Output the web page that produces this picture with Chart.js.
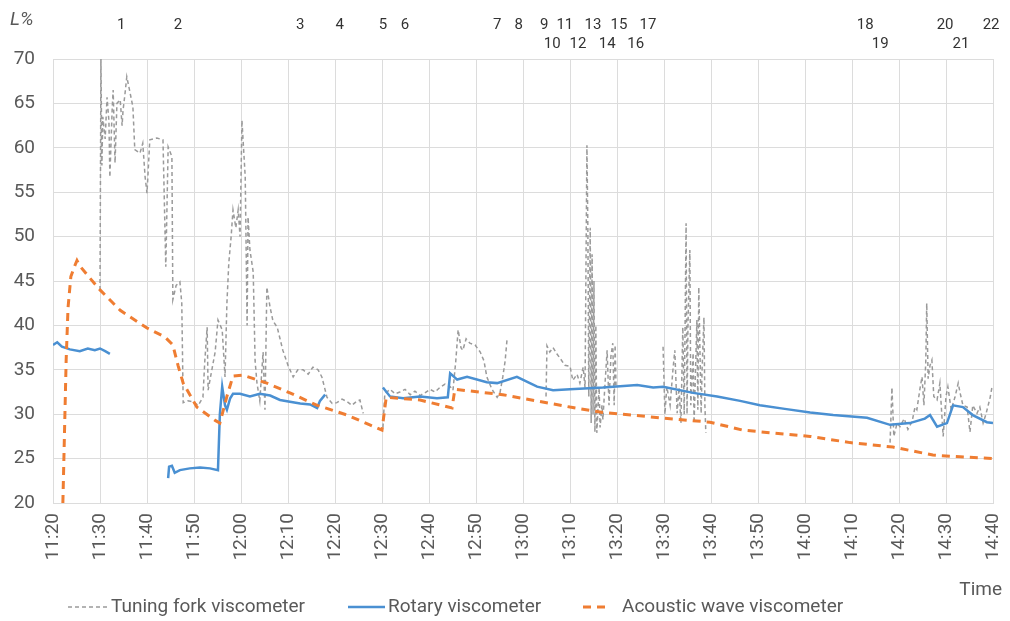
<!DOCTYPE html>
<html>
<head>
<meta charset="utf-8">
<script src="https://cdn.jsdelivr.net/npm/chart.js@4/dist/chart.umd.min.js"></script>
<style>
html,body{margin:0;padding:0;background:#fff;}
canvas{display:block;}
</style>
</head>
<body>
<canvas id="c" width="1010" height="621"></canvas>
<script>
// minutes after 11:20
const startHour = 11, startMinute = 20;
const yTicks = [20,25,30,35,40,45,50,55,60,65,70];

const tuningTimes = [10,10.2,10.4,10.6,11.1,11.5,11.9,12.1,12.6,12.8,13.2,13.6,14.3,14.7,14.9,15.3,15.7,16.4,17,17.4,18.5,19.1,19.6,20,20.6,22.1,23.4,24,24.5,25.3,25.5,26.2,27,27.4,27.7,28.7,29.8,30.9,31.9,32.3,32.8,33,33.8,34.5,35.1,36,36.6,37,37.4,37.9,38.3,38.9,39.4,39.8,40.2,40.9,41.3,41.5,41.9,42.6,43,43.4,44,44.7,45.1,45.5,46.2,46.8,47.7,48.3,48.9,50,51.1,52.1,53.2,54.3,55.3,56.4,57.2,58.3,59.4,60.4,61.5,62.6,63.6,64.7,65.3,66,67,
70.2,70.6,71.7,72.8,73.8,74.9,76,77,78.1,79.1,80.2,81.3,82.3,83.4,84.5,85.1,85.7,86.2,86.8,87.2,87.9,88.7,89.8,90.9,91.7,92.3,93.4,94.5,95.1,95.7,96.2,96.6,98,
104.9,105.1,105.7,106.4,107.2,107.9,108.9,110,110.6,111.5,112.1,112.8,113.2,113.6,113.8,114,114.3,114.5,114.7,114.9,115.1,115.3,115.5,115.7,116.2,116.4,116.8,117,117.4,117.9,118.3,118.7,119.1,119.4,119.6,119.8,121,
129.8,130.2,130.6,131.3,131.9,132.3,132.8,133.2,133.6,134,134.3,134.7,134.9,135.1,135.5,135.7,136.2,136.4,137,137.2,137.4,137.9,138.1,138.5,138.7,138.9,140,
178.1,178.5,178.9,179.6,180.2,181.1,181.9,182.8,183.4,183.8,184.5,184.9,185.3,185.7,185.9,186.2,186.6,187,187.4,188.1,188.7,189.1,189.4,190,190.4,191.1,191.9,192.6,193,193.6,194.5,195.1,195.7,196.6,197.2,197.9,198.5,199.4,199.8];
const tuningValues = [44,70,58,63.5,61,65.7,63,56.7,64.5,66.5,58.3,65,65.4,62.5,64.2,66,68,66.2,64.6,59.8,59.4,60.5,56.7,54.9,60.9,61.1,60.9,46.6,60.1,59,42.9,44.5,44.9,42.5,31.3,31.5,31.4,31,31.9,36,39.8,32.7,35,37,40.6,39.5,34.2,42.5,47,50,53,51,53,50,63.1,56.7,40,52.2,48.5,46,36,33.5,31.5,37,30.5,44.3,42,40.5,39.8,38.5,37.2,35.5,34.2,35,35,34.5,35.3,35,34.2,31.9,31.2,31.3,31.7,31.4,31,31.5,31.6,30.1,null,
28.5,32.3,32.8,32.3,32.5,32.8,32.2,32.6,32.1,32.4,32.8,32.5,33,33.4,33.1,32.7,36,39.5,37.5,37.2,38.5,38,37.8,37,36,34.2,32.8,31.9,32.4,34.2,36,38.4,null,
32,37.7,37,37.5,36.8,36.3,35.5,35.4,33.8,34.5,33.5,35.3,33,60.3,51,32,51,29,48,30,45,28,40,27.9,33,28.5,31,29.4,33,37.2,31,36.5,38,31,37.8,33,null,
37.6,30,33.1,31,35,37.2,30.1,33,29,39.8,30,51.5,30,40,48.5,31,36.9,29,40.6,30.5,44.3,30.1,35,40.9,31,27.9,null,
26.8,33,27.5,29,28.6,29.5,28.3,29.2,30.8,30.5,33,34.2,31,36,42.5,34,35.5,36.1,32,31.6,33.5,30,27.5,32,33.1,30.5,31.9,33.5,32.4,31,30.8,28,31,30.1,30.8,29,30,31.9,33.1];

const rotaryTimes = [0,0.9,1.9,3.6,5.7,7.4,8.9,10,11.1,12.1,13,
24.5,24.7,25.3,25.9,27,29.1,31.3,33.4,35.1,35.5,36,36.6,37,37.7,38.3,39.8,41.9,44,46.2,48.3,50.4,52.6,54.7,56.2,56.8,57.9,60,
70.2,71.7,74.5,78.1,81.7,84,84.5,86,88.1,92.3,94.5,98.7,103,106.4,110,117,124.3,127.7,129.8,136.2,141.3,146.2,150.4,155.7,161.1,166,173.2,178.1,182.3,185.5,186.6,188.1,190.2,191.5,193.6,195.7,198.7,200];
const rotaryValues = [37.8,38.1,37.6,37.3,37.1,37.4,37.2,37.4,37.1,36.8,null,
22.8,24.1,24.2,23.4,23.7,23.9,24,23.9,23.7,30,33.1,31,30.5,31.8,32.3,32.3,32,32.3,32.1,31.6,31.4,31.2,31.1,30.7,31.5,32.2,null,
33,32,31.8,32,31.8,31.9,34.6,33.9,34.2,33.6,33.5,34.2,33.1,32.7,32.8,33,33.3,33,33.1,32.4,32,31.5,31,30.6,30.2,29.9,29.6,28.8,29,29.5,29.9,28.6,29,31,30.8,29.9,29.1,29];

const acousticTimes = [2.1,2.8,3.2,3.8,4.7,5.1,5.7,7.9,10,14.3,20,23.8,25.5,26.6,27.7,30.6,34.5,35.5,37,38.3,40.4,45.5,50.4,56.2,62.6,67.4,70,70.9,78.1,84.9,85.5,95.7,110,117,129.1,139.8,146.8,161.1,169.6,178.7,187.2,193,200];
const acousticValues = [20,36.1,42,45.5,46.8,47.3,46.7,45.3,44,41.7,39.7,38.7,37.8,35.5,33.5,30.8,29.3,29,32,34.3,34.4,33.5,32.4,31,29.9,28.8,28.2,31.9,31.6,30.7,32.8,32.2,30.8,30.2,29.6,29.1,28.2,27.5,26.8,26.3,25.4,25.2,25];

const markerLabels = ['1','2','3','4','5','6','7','8','9','10','11','12','13','14','15','16','17','18','19','20','21','22'];
const markerTimes = [14.5,26.6,52.6,61,70.2,74.9,94.5,99.1,104.5,106.2,108.9,111.7,114.9,117.9,120.4,124,126.6,172.8,176,189.8,193.2,199.6];
const markerRows = [0,0,0,0,0,0,0,0,0,1,0,1,0,1,0,1,0,0,1,0,1,0];

const seriesNames = ['Tuning fork viscometer','Rotary viscometer','Acoustic wave viscometer'];
const colors = ['#9a9a9a','#4a90d2','#ef7d32'];

function pts(t, v){ return t.map((x,i)=>({x:x, y:v[i]})); }
function fmt(v){ const tot = startHour*60+startMinute+Math.round(v); const h=Math.floor(tot/60), m=tot%60; return h+':'+(m<10?'0':'')+m; }

const FONT = 'Roboto, "Open Sans", sans-serif';
const TXT = '#595959';

const extras = {
  id:'extras',
  afterDraw(chart){
    const ctx = chart.ctx, xs = chart.scales.x;
    ctx.save();
    ctx.fillStyle = '#333';
    ctx.font = '15px ' + FONT;
    ctx.textAlign = 'center'; ctx.textBaseline = 'middle';
    markerLabels.forEach((l,i)=>{
      const px = xs.getPixelForValue(markerTimes[i]);
      ctx.fillText(l, px, markerRows[i] ? 44 : 25);
    });
    ctx.fillStyle = TXT;
    ctx.font = 'italic 19px ' + FONT;
    ctx.textAlign = 'left';
    ctx.fillText('L%', 10, 20);
    ctx.font = '19px ' + FONT;
    ctx.textAlign = 'right';
    ctx.fillText('Time', 1002, 590);
    const ly = 607;
    const items = [
      {x0:68,x1:108,tx:111,dash:[4,3],w:1.5},
      {x0:348,x1:385,tx:388,dash:[],w:2.5},
      {x0:583,x1:610,tx:622,dash:[8,6],w:3}
    ];
    ctx.textAlign='left';
    items.forEach((it,i)=>{
      ctx.beginPath();
      ctx.setLineDash(it.dash);
      ctx.lineWidth = it.w;
      ctx.strokeStyle = colors[i];
      ctx.moveTo(it.x0, ly); ctx.lineTo(it.x1, ly); ctx.stroke();
      ctx.setLineDash([]);
      ctx.fillStyle = TXT;
      ctx.fillText(seriesNames[i], it.tx, ly);
    });
    ctx.restore();
  }
};

new Chart(document.getElementById('c'), {
  type:'line',
  data:{ datasets:[
    {label:seriesNames[0], data:pts(tuningTimes,tuningValues), borderColor:colors[0], borderWidth:1.5, borderDash:[4,3], pointRadius:0, tension:0, order:3},
    {label:seriesNames[1], data:pts(rotaryTimes,rotaryValues), borderColor:colors[1], borderWidth:2.5, pointRadius:0, tension:0, order:2},
    {label:seriesNames[2], data:pts(acousticTimes,acousticValues), borderColor:colors[2], borderWidth:3, borderDash:[8,6], pointRadius:0, tension:0, order:1}
  ]},
  options:{
    responsive:false, animation:false, devicePixelRatio:1,
    layout:{padding:{top:59,right:17,left:0,bottom:0}},
    plugins:{legend:{display:false}, tooltip:{enabled:false}},
    scales:{
      x:{type:'linear', min:0, max:200,
        afterFit(s){ s.height = 118; s.paddingRight = 0; s.paddingLeft = 0; },
        grid:{color:'#dcdcdc', drawTicks:false, lineWidth:1},
        border:{color:'#dcdcdc'},
        ticks:{stepSize:10, autoSkip:false, minRotation:90, maxRotation:90, padding:10, color:TXT, font:{family:FONT,size:19}, callback:(v)=>fmt(v)}
      },
      y:{min:20, max:70,
        afterFit(s){ s.width = 53; s.paddingTop = 0; s.paddingBottom = 0; },
        grid:{color:'#dcdcdc', drawTicks:false, lineWidth:1},
        border:{color:'#dcdcdc'},
        afterBuildTicks(s){ s.ticks = yTicks.map(v=>({value:v})); },
        ticks:{padding:18, color:TXT, font:{family:FONT,size:19}}
      }
    }
  },
  plugins:[extras]
});
</script>
</body>
</html>
